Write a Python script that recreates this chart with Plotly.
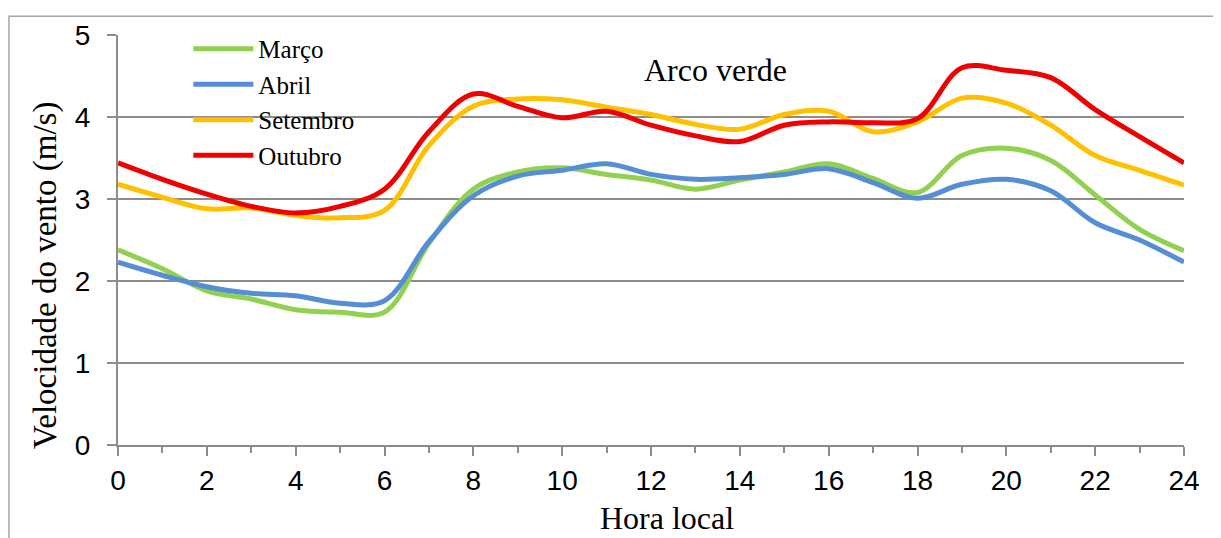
import plotly.graph_objects as go

# Hourly mean wind speed (m/s), Arco verde
horas = list(range(0, 25))
marco = [2.38, 2.15, 1.88, 1.78, 1.65, 1.62, 1.62, 2.46, 3.12, 3.33, 3.38, 3.30, 3.23,
         3.12, 3.23, 3.33, 3.43, 3.25, 3.08, 3.53, 3.62, 3.47, 3.05, 2.63, 2.37]
abril = [2.23, 2.07, 1.93, 1.85, 1.82, 1.73, 1.76, 2.48, 3.04, 3.28, 3.35, 3.43, 3.30,
         3.24, 3.26, 3.30, 3.37, 3.20, 3.01, 3.18, 3.24, 3.10, 2.71, 2.50, 2.23]
setembro = [3.18, 3.02, 2.88, 2.89, 2.80, 2.77, 2.86, 3.65, 4.13, 4.22, 4.21, 4.12, 4.03,
            3.91, 3.85, 4.03, 4.07, 3.82, 3.94, 4.23, 4.17, 3.90, 3.53, 3.35, 3.17]
outubro = [3.44, 3.24, 3.06, 2.91, 2.83, 2.91, 3.12, 3.82, 4.28, 4.13, 3.99, 4.07, 3.90,
           3.77, 3.70, 3.90, 3.94, 3.93, 3.98, 4.60, 4.57, 4.48, 4.09, 3.76, 3.44]

series_names = ['Março', 'Abril', 'Setembro', 'Outubro']
series_colors = ['#92D050', '#558ED5', '#FFC000', '#F00000']

GRID = '#8C8C8C'
SERIF = 'Liberation Serif, Times New Roman, serif'
SANS = 'Liberation Sans, Arial, sans-serif'


def build_figure():
    fig = go.Figure()

    # Smoothed lines, one per month
    for name, ys, color in zip(series_names, [marco, abril, setembro, outubro], series_colors):
        fig.add_trace(go.Scatter(
            x=horas, y=ys, name=name, mode='lines',
            line=dict(color=color, width=5, shape='spline', smoothing=1),
        ))

    text_font = dict(family=SERIF, color='black')

    # note: the page body has an 8px margin, so margins are 8px smaller on left/top
    fig.update_layout(
        width=1221, height=538,
        margin=dict(l=110, r=45, t=20, b=101),
        paper_bgcolor='white', plot_bgcolor='white',
        showlegend=True,
        legend=dict(
            x=0.066, y=1.022, xanchor='left', yanchor='top',
            font=dict(text_font, size=25),
            bgcolor='rgba(0,0,0,0)', itemwidth=60, tracegroupgap=0,
        ),
        annotations=[
            dict(x=13.45, y=4.57, xref='x', yref='y', text='Arco verde', showarrow=False,
                 font=dict(text_font, size=32)),
            # axis titles (the original sits a bit off-centre)
            dict(x=0.515, y=-0.1775, xref='paper', yref='paper', text='Hora local',
                 showarrow=False, xanchor='center', yanchor='middle',
                 font=dict(text_font, size=32)),
            dict(x=-0.0675, y=0.4125, xref='paper', yref='paper', text='Velocidade do vento (m/s)',
                 showarrow=False, textangle=-90, xanchor='center', yanchor='middle',
                 font=dict(text_font, size=33)),
        ],
        # outer chart frame
        shapes=[dict(
            type='rect', xref='paper', yref='paper',
            x0=-0.1023, x1=1.031, y0=-0.3, y1=1.0456,
            line=dict(color='#A6A6A6', width=1.5), fillcolor='rgba(0,0,0,0)', layer='below',
        )],
    )

    fig.update_xaxes(
        range=[0, 24], dtick=2, tick0=0,
        showgrid=False, zeroline=False,
        showline=True, linecolor=GRID, linewidth=2,
        ticks='outside', ticklen=9, tickwidth=2, tickcolor=GRID,
        minor=dict(dtick=1, ticks='outside', ticklen=6, tickwidth=1.5, tickcolor=GRID),
        tickfont=dict(family=SANS, size=28, color='black'),
    )
    fig.update_yaxes(
        range=[0, 5], dtick=1, tick0=0,
        showgrid=True, gridcolor=GRID, gridwidth=1.5, zeroline=False,
        showline=True, linecolor=GRID, linewidth=2,
        ticks='outside', ticklen=9, tickwidth=1.5, tickcolor=GRID,
        tickfont=dict(family=SANS, size=28, color='black'),
        ticklabelstandoff=11,
    )

    # second x axis on top of the first: inside ticks so the marks cross the axis line
    fig.update_layout(xaxis2=dict(
        overlaying='x', anchor='y', side='bottom', range=[0, 24], dtick=2, tick0=0,
        showgrid=False, zeroline=False, showline=False, showticklabels=False,
        ticks='inside', ticklen=9, tickwidth=2, tickcolor=GRID,
        minor=dict(dtick=1, ticks='inside', ticklen=6, tickwidth=1.5, tickcolor=GRID),
    ))
    return fig


def main():
    fig = build_figure()
    fig.write_html("out.html")


if __name__ == "__main__":
    main()
